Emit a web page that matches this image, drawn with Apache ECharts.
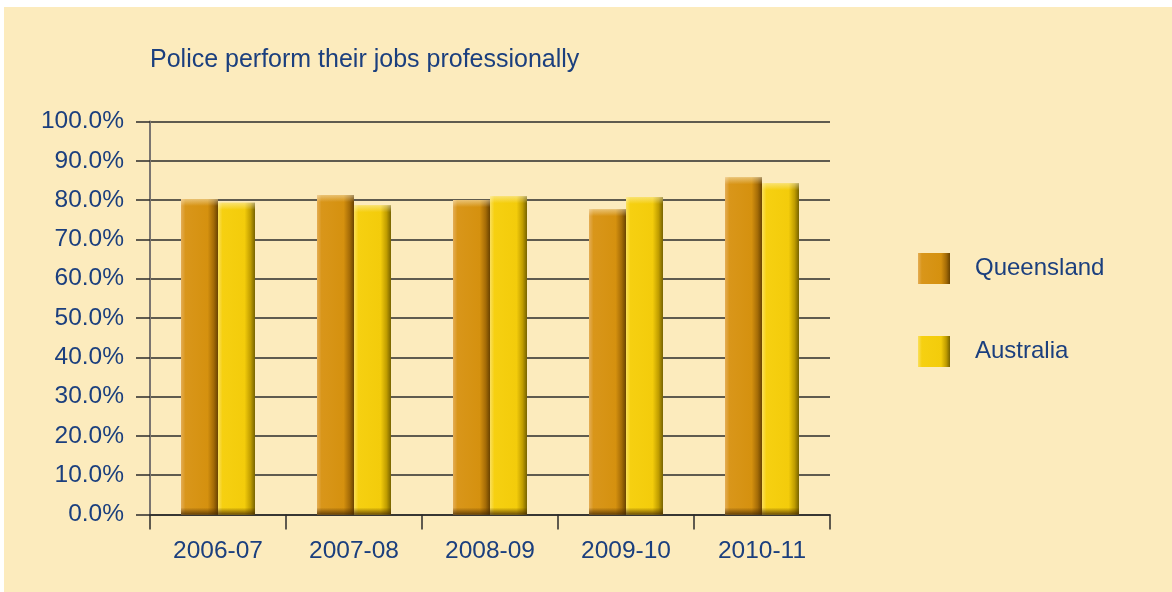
<!DOCTYPE html>
<html>
<head>
<meta charset="utf-8">
<script src="https://cdn.jsdelivr.net/npm/echarts@6/dist/echarts.min.js"></script>
<style>
html,body{margin:0;padding:0;background:#ffffff;}
#chart{width:1172px;height:592px;}
</style>
</head>
<body>
<div id="chart"></div>
<script>
const titleText = 'Police perform their jobs professionally';
const categories = ['2006-07', '2007-08', '2008-09', '2009-10', '2010-11'];
const seriesNames = ['Queensland', 'Australia'];
const queensland = [80.3, 81.3, 80.0, 77.7, 85.8];
const australia = [79.3, 78.7, 81.0, 80.8, 84.3];

const textColor = '#1b3f7e';
const font = 'Liberation Sans';
const BAR_W = 37;

function grad(light, main, main2, dark, darkest) {
  return new echarts.graphic.LinearGradient(0, 0, 1, 0, [
    {offset: 0, color: light},
    {offset: 0.12, color: main},
    {offset: 0.72, color: main2},
    {offset: 0.88, color: dark},
    {offset: 1, color: darkest}
  ]);
}

// bevel overlay (top highlight + bottom shadow) positioned via the axes
function bevelSeries(values, side) {
  return {
    type: 'custom', silent: true, z: 5,
    data: values.map((v, i) => [i, v]),
    renderItem: function (params, api) {
      const top = api.coord([api.value(0), api.value(1)]);
      const base = api.coord([api.value(0), 0]);
      const x = top[0] + (side < 0 ? -BAR_W : 0);
      return {
        type: 'group',
        children: [{
          type: 'rect',
          shape: {x: x, y: top[1], width: BAR_W, height: 7},
          style: {fill: new echarts.graphic.LinearGradient(0, 0, 0, 1, [
            {offset: 0, color: 'rgba(255,250,230,0.45)'},
            {offset: 1, color: 'rgba(255,250,230,0)'}
          ])}
        }, {
          type: 'rect',
          shape: {x: x, y: base[1] - 7, width: BAR_W, height: 7},
          style: {fill: new echarts.graphic.LinearGradient(0, 0, 0, 1, [
            {offset: 0, color: 'rgba(70,40,0,0)'},
            {offset: 1, color: 'rgba(70,40,0,0.75)'}
          ])}
        }]
      };
    }
  };
}

const chart = echarts.init(document.getElementById('chart'), null, {renderer: 'canvas'});
chart.setOption({
  backgroundColor: 'transparent',
  animation: false,
  graphic: [{
    type: 'rect', left: 4, top: 7, z: -10,
    shape: {width: 1168, height: 585},
    style: {fill: '#fcebbd'}
  }],
  title: {
    text: titleText, left: 145, top: 43,
    textStyle: {color: textColor, fontFamily: font, fontSize: 25, fontWeight: 'normal'}
  },
  legend: {
    orient: 'vertical', left: 918, top: 253, padding: 0,
    itemWidth: 32, itemHeight: 31, itemGap: 52,
    icon: 'rect',
    textStyle: {color: textColor, fontFamily: font, fontSize: 24, padding: [3, 0, 0, 20]},
    data: seriesNames
  },
  grid: {left: 150, right: 342, top: 121.5, bottom: 77.5, containLabel: false},
  xAxis: {
    type: 'category', data: categories,
    axisLine: {show: true, lineStyle: {color: '#2b2b2b', width: 1.5}},
    axisTick: {show: true, length: 15, lineStyle: {color: '#2b2b2b', width: 1.5}},
    axisLabel: {color: textColor, fontFamily: font, fontSize: 24.5, margin: 24},
    splitLine: {show: false}
  },
  yAxis: {
    type: 'value', min: 0, max: 100, interval: 10,
    axisLine: {show: true, lineStyle: {color: '#7a7570', width: 2}},
    axisTick: {show: true, length: 14, lineStyle: {color: '#2b2b2b', width: 1.5}},
    axisLabel: {color: textColor, fontFamily: font, fontSize: 24.5, margin: 26,
      formatter: v => v.toFixed(1) + '%'},
    splitLine: {show: true, lineStyle: {color: '#2b2b2b', width: 1.5}}
  },
  series: [{
    name: seriesNames[0], type: 'bar', data: queensland,
    barWidth: BAR_W, barGap: '0%',
    itemStyle: {color: grad('#e4ad55', '#d9961a', '#d5910f', '#a56c07', '#6a4300')}
  }, {
    name: seriesNames[1], type: 'bar', data: australia,
    barWidth: BAR_W, barGap: '0%',
    itemStyle: {color: grad('#fadf5c', '#f6d011', '#f3cc0b', '#c09d00', '#776300')}
  },
  bevelSeries(queensland, -1),
  bevelSeries(australia, 1)]
});
</script>
</body>
</html>
